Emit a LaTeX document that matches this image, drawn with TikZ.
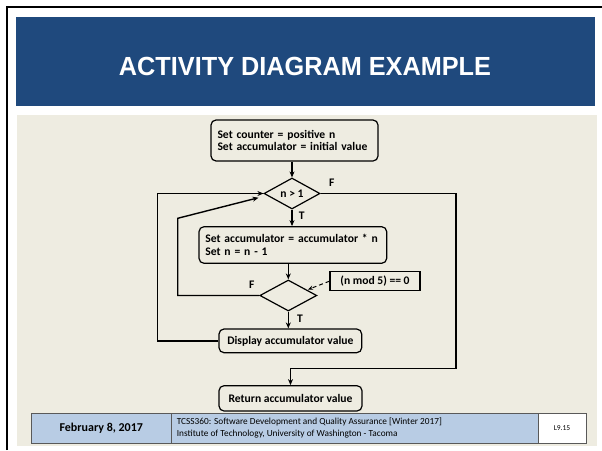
\documentclass[tikz,border=0pt]{standalone}
\usepackage{fontspec}
\setmainfont{Carlito}
\newfontfamily\titlefont{Liberation Sans}
\usetikzlibrary{shapes.geometric,arrows.meta,calc}
\definecolor{bandblue}{RGB}{31,73,125}
\definecolor{beige}{RGB}{238,236,225}
\definecolor{footblue}{RGB}{184,204,228}
\definecolor{footline}{RGB}{89,89,89}
\tikzset{
  flow/.style={line width=1.4pt, draw=black},
  arr/.style={flow, -{Stealth[length=6pt,width=5pt]}},
  dfont/.style={font=\bfseries\fontsize{11.6}{12.5}\selectfont},
  actbox/.style={draw=black, line width=1.2pt, rounded corners=5pt, inner sep=0pt, dfont},
  decide/.style={draw=black, line width=1.2pt, diamond, inner sep=0pt, dfont},
  lbl/.style={dfont, inner sep=0pt},
  footbox/.style={draw=footline, line width=0.6pt, inner sep=0pt, anchor=north west},
}
\begin{document}
\begin{tikzpicture}[x=1pt,y=-1pt]
\useasboundingbox (0,0) rectangle (602,450);
\fill[white] (0,0) rectangle (602,450);
% frame
\draw[line width=2pt, black] (7,450) -- (7,7) -- (602,7);
% title band
\fill[bandblue] (16,16.7) rectangle (595,105.7);
\node[white, inner sep=0pt] (title) at (305,66) {\resizebox{372pt}{18.3pt}{\titlefont\bfseries ACTIVITY DIAGRAM EXAMPLE}};
% beige panel
\fill[beige] (17,115) rectangle (597,445.7);

% nodes
\node[actbox, minimum width=167pt, minimum height=41pt, align=left, text width=154pt] (b1) at (294.5,140.5)
  {Set counter = positive n\\Set accumulator = initial value};
\node[decide, minimum width=56pt, minimum height=31pt] (d1) at (292,193.5) {n > 1};
\node[actbox, minimum width=187.7pt, minimum height=36.6pt, align=left, text width=175pt] (b2) at (292.85,245)
  {Set accumulator = accumulator * n\\Set n = n - 1};
\node[decide, minimum width=57pt, minimum height=31pt] (d2) at (288.3,295.5) {};
\node[actbox, minimum width=142.7pt, minimum height=23.7pt] (disp) at (290.35,340.85) {Display accumulator value};
\node[actbox, minimum width=143pt, minimum height=25.3pt] (ret) at (290.5,398.35) {Return accumulator value};
\node[draw=black, line width=1.2pt, minimum width=90pt, minimum height=19pt, inner sep=0pt, dfont] (note) at (375,281.2) {(n mod 5) == 0};

% labels
\node[lbl] (f1) at (331.7,182.7) {F};
\node[lbl] (t1) at (301.7,216) {T};
\node[lbl] (f2) at (251.7,285) {F};
\node[lbl] (t2) at (300,318.3) {T};

% coordinates
\coordinate (c1) at (456,193.5);
\coordinate (c2) at (456,368.3);
\coordinate (c3) at (290.5,368.3);
\coordinate (c4) at (177.7,295.5);
\coordinate (c5) at (177.7,218.3);
\coordinate (c6) at (258.5,197.7);
\coordinate (c7) at (157.3,340.85);
\coordinate (c8) at (157.3,193.5);
\coordinate (c9) at (308,289.5);

% connectors
\draw[arr] (d1.north |- b1.south) -- (d1.north);
\draw[arr] (d1.south) -- (d1.south |- b2.north);
\draw[arr] (d2.north |- b2.south) -- (d2.north);
\draw[arr] (d2.south) -- (d2.south |- disp.north);
\draw[arr] (d1.east) -- (c1) -- (c2) -- (c3) -- (ret.north);
\draw[arr] (d2.west) -- (c4) -- (c5) -- (c6);
\draw[arr] (disp.west) -- (c7) -- (c8) -- (d1.west);
\draw[flow, line width=1pt, dashed, dash pattern=on 4pt off 3pt, -{Stealth[length=5pt,width=4pt]}] (note.west) -- (c9);

% footer
\node[footbox, fill=footblue, minimum width=140pt, minimum height=29.7pt] (fdate) at (31,413) {};
\node[font=\bfseries\fontsize{12}{13}\selectfont, inner sep=0pt] (fdatet) at (fdate.center) {February 8, 2017};
\node[footbox, fill=footblue, minimum width=366.7pt, minimum height=29.7pt] (fmid) at (171,413) {};
\node[anchor=west, align=left, inner sep=0pt, font=\fontsize{9.3}{12.3}\selectfont] (fmidt) at (176.7,428)
  {TCSS360: Software Development and Quality Assurance [Winter 2017]\\Institute of Technology, University of Washington - Tacoma};
\node[footbox, fill=white, minimum width=48pt, minimum height=29.7pt] (fnum) at (537.7,413) {};
\node[font=\fontsize{7.5}{8}\selectfont, inner sep=0pt] (fnumt) at (fnum.center) {L9.15};
\end{tikzpicture}
\end{document}
